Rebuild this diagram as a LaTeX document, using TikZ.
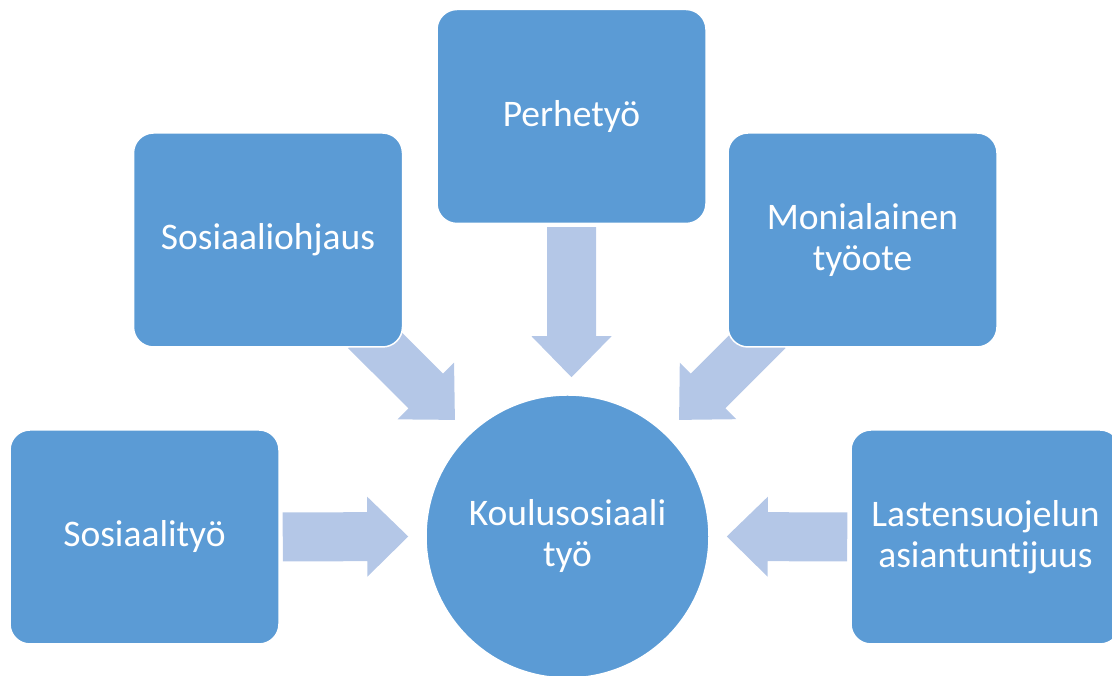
\documentclass[tikz,border=0pt]{standalone}
\usepackage{fontspec}
\setmainfont{Carlito}[Ligatures=NoCommon]
\usetikzlibrary{calc,backgrounds}

\definecolor{boxblue}{HTML}{5B9BD5}
\definecolor{arrowblue}{HTML}{B4C7E7}

% broad arrow from #1 to #2
\newcommand{\fatarrow}[2]{%
  \coordinate (base) at ($(#2)!41pt!(#1)$);
  \fill[arrowblue] ($(#1)!24.5pt!90:(#2)$) -- ($(base)!24.5pt!90:(#2)$) -- ($(base)!40pt!90:(#2)$) -- (#2)
    -- ($(base)!40pt!-90:(#2)$) -- ($(base)!24.5pt!-90:(#2)$) -- ($(#1)!24.5pt!-90:(#2)$) -- cycle;
}

\begin{document}
\begin{tikzpicture}[x=1pt,y=1pt,
    box/.style={rectangle, rounded corners=20pt, fill=boxblue, draw=white, line width=1.5pt,
      minimum width=269pt, minimum height=214pt, inner sep=0pt, text=white, align=center,
      font=\fontsize{37.5}{41}\selectfont},
    hub/.style={circle, fill=boxblue, draw=white, line width=1.5pt, minimum size=283pt,
      inner sep=0pt, text=white, align=center, font=\fontsize{37.5}{41}\selectfont}]
    \useasboundingbox (0,0) rectangle (1112,676);
    \clip (0,0) rectangle (1112,676);

    % Centre
    \node[hub] (koulu) at (567.5,139.5) {Koulusosiaali\\työ};

    % Boxes around it
    \node[box] (perhe) at (571.5,559.5) {Perhetyö};
    \node[box] (ohjaus) at (268,436) {Sosiaaliohjaus};
    \node[box] (moni) at (862.5,436) {Monialainen\\työote};
    \node[box] (sostyo) at (144.5,139) {Sosiaalityö};
    \node[box] (lasten) at (985.5,139) {Lastensuojelun\\asiantuntijuus};

    % Arrow ends
    \coordinate (sostyo-out) at ([xshift=3pt]sostyo.east);
    \coordinate (koulu-w) at ([xshift=-17pt]koulu.west);
    \coordinate (lasten-out) at ([xshift=-3pt]lasten.west);
    \coordinate (koulu-e) at ([xshift=17pt]koulu.east);
    \coordinate (perhe-out) at ([yshift=-3pt]perhe.south);
    \coordinate (koulu-n) at ($(perhe.south |- koulu.north)+(0,17pt)$);
    \coordinate (ohjaus-out) at ([shift={(-38pt,17pt)}]ohjaus.south east);
    \coordinate (koulu-nw) at ([shift={(-12pt,16pt)}]koulu.135);
    \coordinate (moni-out) at ([shift={(41pt,17pt)}]moni.south west);
    \coordinate (koulu-ne) at ([shift={(11pt,16pt)}]koulu.45);

    % Arrows behind the boxes
    \begin{scope}[on background layer]
        \fatarrow{sostyo-out}{koulu-w}
        \fatarrow{lasten-out}{koulu-e}
        \fatarrow{perhe-out}{koulu-n}
        \fatarrow{ohjaus-out}{koulu-nw}
        \fatarrow{moni-out}{koulu-ne}
    \end{scope}
\end{tikzpicture}
\end{document}
